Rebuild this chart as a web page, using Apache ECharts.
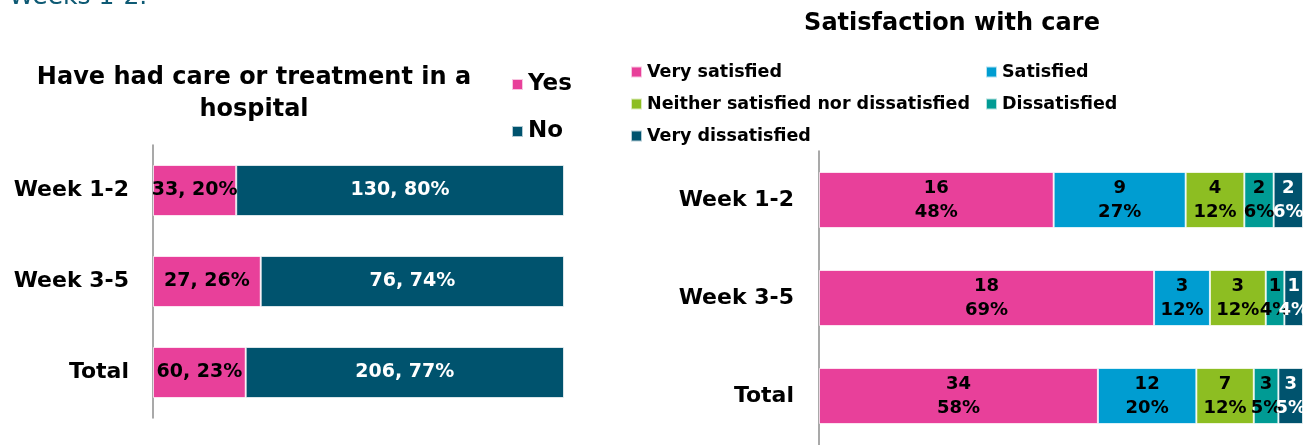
<!DOCTYPE html>
<html>
<head>
<meta charset="utf-8">
<script src="https://cdn.jsdelivr.net/npm/echarts@6/dist/echarts.min.js"></script>
<style>
html,body{margin:0;padding:0;background:#fff;}
#chart{width:1310px;height:445px;}
</style>
</head>
<body>
<div id="chart"></div>
<script>
const categories = ['Week 1-2', 'Week 3-5', 'Total'];
// Left chart: have had care or treatment in a hospital (counts)
const yesCounts = [33, 27, 60];
const noCounts = [130, 76, 206];
// Right chart: satisfaction with care (counts)
const verySatisfied = [16, 18, 34];
const satisfied = [9, 3, 12];
const neither = [4, 3, 7];
const dissatisfied = [2, 1, 3];
const veryDissatisfied = [2, 1, 3];

const FONT = '"DejaVu Sans", sans-serif';
const C = {
  pink: '#E8409A',
  dark: '#00536E',
  blue: '#009DD1',
  green: '#8DBE22',
  teal: '#009B94'
};

function toPct(counts, groups) {
  return counts.map((c, i) => {
    const tot = groups.reduce((s, g) => s + g[i], 0);
    return { value: c / tot * 100, count: c };
  });
}
const leftGroups = [yesCounts, noCounts];
const rightGroups = [verySatisfied, satisfied, neither, dissatisfied, veryDissatisfied];

const leftLabel = (color) => ({
  show: true, position: 'inside', color: color, fontFamily: FONT,
  fontWeight: 'bold', fontSize: 19,
  formatter: p => p.data.count + ', ' + Math.round(p.value) + '%'
});
const rightLabel = (color) => ({
  show: true, position: 'inside', color: color, fontFamily: FONT,
  fontWeight: 'bold', fontSize: 18, lineHeight: 24,
  formatter: p => p.data.count + '\n' + Math.round(p.value) + '%'
});
const border = { borderColor: 'rgba(255,255,255,0.7)', borderWidth: 1 };

function leftSeries(name, counts, color, labelColor) {
  return {
    name, type: 'bar', stack: 'left', xAxisIndex: 0, yAxisIndex: 0,
    barWidth: 51, data: toPct(counts, leftGroups),
    itemStyle: Object.assign({ color }, border),
    label: leftLabel(labelColor)
  };
}
function rightSeries(name, counts, color, labelColor) {
  return {
    name, type: 'bar', stack: 'right', xAxisIndex: 1, yAxisIndex: 1,
    barWidth: 56, data: toPct(counts, rightGroups),
    itemStyle: Object.assign({ color }, border),
    label: rightLabel(labelColor)
  };
}

const yAxisCommon = {
  type: 'category', data: categories, inverse: true,
  axisLine: { show: true, lineStyle: { color: '#8c8c8c', width: 1.5 } },
  axisTick: { show: false },
  axisLabel: { color: '#000', fontFamily: FONT, fontWeight: 'bold', fontSize: 22 }
};

const chart = echarts.init(document.getElementById('chart'), null, { renderer: 'canvas' });
chart.setOption({
  backgroundColor: '#fff',
  animation: false,
  textStyle: { fontFamily: FONT },
  grid: [
    { left: 153, right: 746, top: 145, height: 273 },
    { left: 819, right: 7, top: 151, height: 299 }
  ],
  xAxis: [
    { type: 'value', gridIndex: 0, min: 0, max: 100, show: false },
    { type: 'value', gridIndex: 1, min: 0, max: 100, show: false }
  ],
  yAxis: [
    Object.assign({ gridIndex: 0 }, yAxisCommon, { axisLabel: Object.assign({}, yAxisCommon.axisLabel, { margin: 24 }) }),
    Object.assign({ gridIndex: 1 }, yAxisCommon, { axisLabel: Object.assign({}, yAxisCommon.axisLabel, { margin: 25 }) })
  ],
  legend: [
    {
      data: ['Yes', 'No'], orient: 'vertical', left: 506, top: 68,
      itemWidth: 11, itemHeight: 11, itemGap: 24, icon: 'rect',
      textStyle: { color: '#000', fontFamily: FONT, fontWeight: 'bold', fontSize: 23 }
    },
    {
      data: ['Very satisfied', 'Neither satisfied nor dissatisfied', 'Very dissatisfied'],
      orient: 'vertical', left: 625, top: 58,
      itemWidth: 11, itemHeight: 11, itemGap: 14, icon: 'rect',
      textStyle: { color: '#000', fontFamily: FONT, fontWeight: 'bold', fontSize: 17.5 }
    },
    {
      data: ['Satisfied', 'Dissatisfied'],
      orient: 'vertical', left: 980, top: 58,
      itemWidth: 11, itemHeight: 11, itemGap: 14, icon: 'rect',
      textStyle: { color: '#000', fontFamily: FONT, fontWeight: 'bold', fontSize: 17.5 }
    }
  ],
  graphic: [
    {
      type: 'text', left: 9, top: -15,
      style: { text: 'Weeks 1-2.', fill: '#0E5A74', font: 'normal 25px ' + FONT }
    },
    {
      type: 'text', x: 254, y: 62,
      style: { text: 'Have had care or treatment in a\nhospital', fill: '#000',
        font: 'bold 24px ' + FONT, align: 'center', lineHeight: 32 }
    },
    {
      type: 'text', x: 952, y: 12,
      style: { text: 'Satisfaction with care', fill: '#000',
        font: 'bold 24px ' + FONT, align: 'center' }
    }
  ],
  series: [
    leftSeries('Yes', yesCounts, C.pink, '#000'),
    leftSeries('No', noCounts, C.dark, '#fff'),
    rightSeries('Very satisfied', verySatisfied, C.pink, '#000'),
    rightSeries('Satisfied', satisfied, C.blue, '#000'),
    rightSeries('Neither satisfied nor dissatisfied', neither, C.green, '#000'),
    rightSeries('Dissatisfied', dissatisfied, C.teal, '#000'),
    rightSeries('Very dissatisfied', veryDissatisfied, C.dark, '#fff')
  ]
});
</script>
</body>
</html>
